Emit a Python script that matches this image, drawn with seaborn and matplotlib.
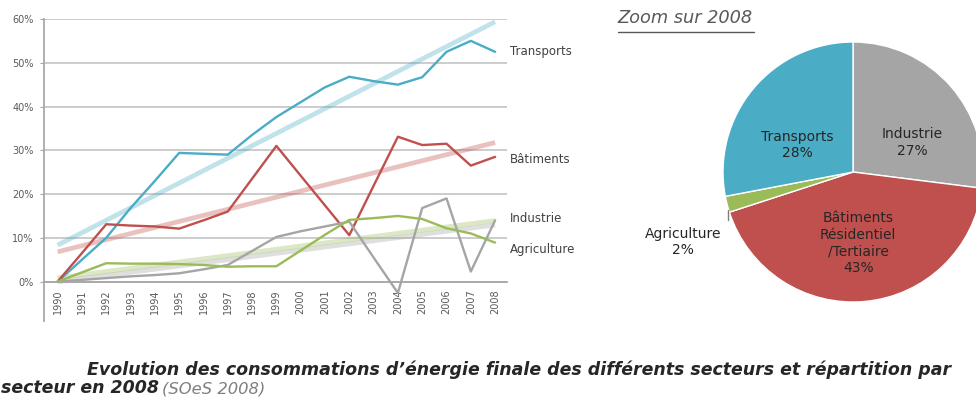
import matplotlib
matplotlib.use("Agg")
import matplotlib.pyplot as plt
import seaborn as sns
import pandas as pd
import numpy as np
from matplotlib.lines import Line2D

# ---------------- data ----------------
years = list(range(1990, 2009))
transports = [0, 5, 10, 16.8, 23, 29.4, 29.2, 29, 33.5, 37.6, 41, 44.4, 46.8, 45.8, 45, 46.7, 52.5, 55, 52.5]
batiments = [0, 6.5, 13.1, 12.8, 12.6, 12.1, 14, 16, 23.5, 31, 24.2, 17.4, 10.6, 21.9, 33.1, 31.2, 31.5, 26.5, 28.5]
industrie = [0, 0.4, 0.8, 1.2, 1.5, 1.9, 2.8, 3.8, 7, 10.2, 11.5, 12.6, 13.7, 5.5, -2.6, 16.8, 19, 2.3, 14]
agriculture = [0, 2.1, 4.2, 4.1, 4.1, 4, 3.8, 3.4, 3.5, 3.5, 7.1, 10.7, 14.1, 14.5, 15, 14.3, 12.2, 11, 8.9]

sectors = ["Transports", "Bâtiments", "Industrie", "Agriculture"]
series = [transports, batiments, industrie, agriculture]
colors = ["#4BACC6", "#C0504D", "#A5A5A5", "#9BBB59"]
label_y = [52.5, 27.8, 14.5, 7.4]

y_ticks = [0, 10, 20, 30, 40, 50, 60]
y_ticklabels = ["0%", "10%", "20%", "30%", "40%", "50%", "60%"]

pie_labels = ["Industrie\n27%", "Bâtiments\nRésidentiel\n/Tertiaire\n43%", "Agriculture\n2%", "Transports\n28%"]
pie_values = [27, 43, 2, 28]
pie_colors = ["#A5A5A5", "#C0504D", "#9BBB59", "#4BACC6"]
pie_label_pos = [(0.454, 0.227), (0.04, -0.546), (-1.308, -0.538), (-0.43, 0.208)]

caption1 = "Evolution des consommations d’énergie finale des différents secteurs et répartition par"
caption2 = "secteur en 2008"
caption3 = "(SOeS 2008)"

# ---------------- figure ----------------
sns.set_theme(style="white")
plt.rcParams["font.family"] = ["DejaVu Sans"]

fig = plt.figure(figsize=(9.76, 4.03), dpi=100)
fig.patch.set_facecolor("white")

ax = fig.add_axes([0.0446, 0.2035, 0.4749, 0.7494])
df = pd.DataFrame({
    "year": years * len(sectors),
    "value": sum(series, []),
    "sector": sum([[s] * len(years) for s in sectors], []),
})
palette = dict(zip(sectors, colors))

# trend lines (linear regressions)
for s in sectors:
    sub = df[df["sector"] == s]
    sns.regplot(data=sub, x="year", y="value", ax=ax, scatter=False, ci=None,
                color=palette[s], line_kws=dict(lw=3.4, alpha=0.35, solid_capstyle="butt"))

sns.lineplot(data=df, x="year", y="value", hue="sector", palette=palette, ax=ax,
             lw=1.7, legend=False)

ax.set_xlim(1989.42, 2008.49)
ax.set_ylim(-9, 60)
ax.set_xlabel("")
ax.set_ylabel("")
ax.set_yticks(y_ticks)
ax.set_yticklabels(y_ticklabels)
ax.grid(axis="y", color="#C8C8C8", lw=1.3)
ax.set_axisbelow(True)
for sp in ["top", "right"]:
    ax.spines[sp].set_visible(False)
ax.spines["left"].set_color("#A6A6A6")
ax.spines["bottom"].set_color("#A6A6A6")
ax.spines["bottom"].set_position(("data", 0))
ax.set_xticks(years)
ax.set_xticklabels([str(y) for y in years], rotation=90)
ax.set_xticks([y + 0.5 for y in years[:-1]], minor=True)
ax.tick_params(axis="x", which="major", length=0, pad=5.5, labelsize=7, labelcolor="#595959")
ax.tick_params(axis="x", which="minor", length=3, width=0.8, color="#A6A6A6", direction="out")
ax.tick_params(axis="y", length=3, width=0.8, color="#A6A6A6", direction="out", pad=4,
               labelsize=7, labelcolor="#595959", left=True)

for s, yl in zip(sectors, label_y):
    ax.text(2008.62, yl, s, fontsize=8.5, color="#404040", ha="left", va="center", clip_on=False)

# ---------------- pie ----------------
ax2 = fig.add_axes([0.7408, 0.2506, 0.2664, 0.6452])
wedges, _ = ax2.pie(pie_values, colors=pie_colors, startangle=90, counterclock=False,
                    wedgeprops=dict(edgecolor="white", linewidth=1))
for w in wedges:
    w.set_clip_on(False)
ax2.set_xlim(-1, 1)
ax2.set_ylim(-1, 1)
ax2.set_aspect("equal")
for lab, (px, py), c in zip(pie_labels, pie_label_pos, pie_colors):
    ax2.text(px, py, lab, ha="center", va="center", fontsize=10, color="#262626",
             linespacing=1.25, clip_on=False)
ax2.add_line(Line2D([-0.958, -0.958], [-0.29, -0.37], color="#7F7F7F", lw=1, clip_on=False))

# ---------------- titles ----------------
fig.text(0.633, 0.944, "Zoom sur 2008", fontsize=12.8, style="italic", color="#595959",
         ha="left", va="baseline")
fig.add_artist(Line2D([0.633, 0.773], [0.921, 0.921], color="#595959", lw=1))

fig.text(0.0891, 0.0695, caption1, fontsize=12.5, style="italic", weight="bold",
         color="#262626", ha="left", va="baseline")
fig.text(0.001, 0.0248, caption2, fontsize=12.5, style="italic", weight="bold",
         color="#262626", ha="left", va="baseline")
fig.text(0.166, 0.0248, caption3, fontsize=11.8, style="italic", color="#7F7F7F",
         ha="left", va="baseline")

fig.savefig("out.png", dpi=100, facecolor="white")
